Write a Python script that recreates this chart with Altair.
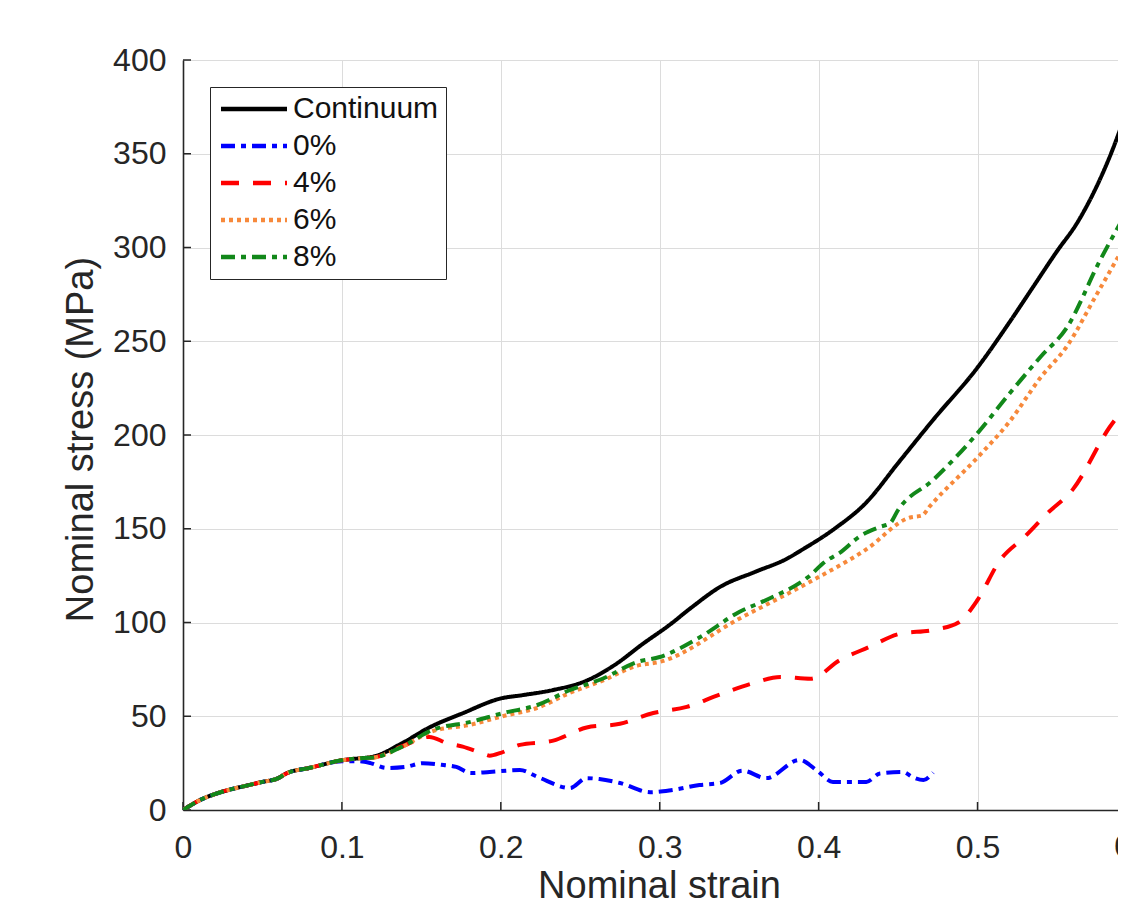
import altair as alt
import pandas as pd

# ---------------- data ----------------
series_names = ["Continuum", "0%", "4%", "6%", "8%"]
series_colors = ["#000000", "#0000ff", "#ff0000", "#f7893b", "#12881a"]
series_dashes = [[1, 0], [14, 6, 5, 6], [18, 14], [4, 4], [14, 6, 5, 6]]

cont_x = [0, 0.01, 0.02, 0.03, 0.04, 0.05, 0.06, 0.065, 0.08, 0.1, 0.11, 0.12,
          0.138, 0.155, 0.176, 0.2, 0.214, 0.233, 0.254, 0.271, 0.29, 0.306,
          0.32, 0.338, 0.36, 0.38, 0.39, 0.41, 0.43, 0.45, 0.472, 0.5, 0.52,
          0.535, 0.55, 0.5626, 0.583, 0.6]
cont_y = [0, 5, 8.5, 11, 13, 15, 17, 19.5, 22.5, 26.5, 27.5, 28.5,
          35.7, 44, 51.6, 59.5, 61.3, 64, 69, 77, 89, 98.6,
          108, 119, 127, 134, 139, 150, 164, 185, 208, 236, 260,
          279, 298, 313, 348, 388]

p0_x = [0, 0.01, 0.02, 0.03, 0.04, 0.05, 0.06, 0.065, 0.08, 0.1, 0.11, 0.118,
        0.128, 0.14, 0.151, 0.164, 0.172, 0.181, 0.193, 0.212, 0.223, 0.2436,
        0.254, 0.262, 0.275, 0.294, 0.308, 0.325, 0.338, 0.352, 0.367, 0.388,
        0.399, 0.409, 0.43, 0.4386, 0.453, 0.459, 0.466, 0.472]
p0_y = [0, 5, 8.5, 11, 13, 15, 17, 19.5, 22.5, 26, 26, 25,
        22.4, 23, 25, 24, 23, 19.7, 20.3, 21.3, 17.7, 11.7,
        17, 16.5, 14.4, 9.5, 10.7, 13.3, 14.4, 21, 17, 26.7,
        21, 15, 15, 19.5, 20.3, 17.6, 16, 20]

p4_x = [0, 0.01, 0.02, 0.03, 0.04, 0.05, 0.06, 0.065, 0.08, 0.1, 0.11, 0.12,
        0.138, 0.155, 0.166, 0.176, 0.189, 0.193, 0.2, 0.212, 0.233, 0.254,
        0.275, 0.296, 0.317, 0.336, 0.359, 0.376, 0.395, 0.4135, 0.432, 0.451,
        0.472, 0.488, 0.5, 0.514, 0.53, 0.5437, 0.56, 0.583, 0.6]
p4_y = [0, 5, 8.5, 11, 13, 15, 17, 19.5, 22.5, 26.5, 27.5, 28,
        34, 39, 35.7, 33.8, 30, 29, 30.5, 34.7, 37, 44,
        46, 51.7, 55, 61, 67.7, 71, 70, 80, 87, 94,
        96, 100, 112, 133, 146, 158, 171, 204, 222]

p6_x = [0, 0.01, 0.02, 0.03, 0.04, 0.05, 0.06, 0.065, 0.08, 0.1, 0.11, 0.12,
        0.138, 0.157, 0.181, 0.201, 0.223, 0.2436, 0.264, 0.286, 0.3, 0.35,
        0.393, 0.43, 0.4575, 0.465, 0.47, 0.5, 0.52, 0.54, 0.556, 0.575, 0.6]
p6_y = [0, 5, 8.5, 11, 13, 15, 17, 19.5, 22.5, 26.5, 27.5, 28,
        33.8, 42, 45.5, 50, 54.5, 62.5, 69, 77, 79, 102,
        121, 139, 156, 157, 162, 188, 207, 231, 247, 275, 312]

p8_x = [0, 0.01, 0.02, 0.03, 0.04, 0.05, 0.06, 0.065, 0.08, 0.1, 0.11, 0.12,
        0.138, 0.157, 0.181, 0.201, 0.223, 0.2436, 0.264, 0.286, 0.3, 0.325,
        0.35, 0.367, 0.393, 0.405, 0.413, 0.426, 0.4386, 0.445, 0.45, 0.472,
        0.5, 0.52, 0.54, 0.556, 0.577, 0.6]
p8_y = [0, 5, 8.5, 11, 13, 15, 17, 19.5, 22.5, 26.5, 27.5, 28,
        33.8, 42.7, 47, 51.6, 56, 64, 70, 79, 81.6, 92,
        105.6, 112, 124, 133, 137, 146, 151, 153, 160, 176,
        201, 222, 242, 257, 293, 328]

x_ticks = [0, 0.1, 0.2, 0.3, 0.4, 0.5]
y_ticks = [0, 50, 100, 150, 200, 250, 300, 350, 400]
cut_tick = [0.6]
cut_tick_label = ["0.6"]

# ---------------- build table ----------------
rows = []
for name, xs, ys in [("Continuum", cont_x, cont_y), ("0%", p0_x, p0_y),
                     ("4%", p4_x, p4_y), ("6%", p6_x, p6_y), ("8%", p8_x, p8_y)]:
    for xv, yv in zip(xs, ys):
        rows.append({"series": name, "strain": xv, "stress": yv})
df = pd.DataFrame(rows)
df["order"] = range(len(df))

FONT = "Liberation Sans"
AX = "#262626"
W, H = 935, 750

xscale = alt.Scale(domain=[0, 0.5884], nice=False, zero=False)
yscale = alt.Scale(domain=[0, 400], nice=False)

legend = alt.Legend(
    orient="none", legendX=27, legendY=27, title=None,
    symbolType="M-1,0H5", symbolSize=484, symbolStrokeWidth=4.5,
    labelFontSize=30, labelFont=FONT, labelColor="#111111", labelOffset=46,
    fillColor="white", strokeColor=AX, padding=7, rowPadding=7,
)

lines = alt.Chart(df).mark_line(strokeWidth=4, clip=True, interpolate="monotone").encode(
    x=alt.X("strain:Q", scale=xscale,
            axis=alt.Axis(values=x_ticks, format="~g", title="Nominal strain",
                          grid=True, gridColor="#dcdcdc", gridWidth=1,
                          ticks=False, domainColor=AX, domainWidth=1.6,
                          labelFont=FONT, labelFontSize=32, labelColor=AX,
                          labelPadding=22, labelFlush=False,
                          titleFont=FONT, titleFontSize=38, titleColor=AX,
                          titleFontWeight="normal", titleBaseline="alphabetic",
                          titleAlign="center", titleX=476, titleY=87)),
    y=alt.Y("stress:Q", scale=yscale,
            axis=alt.Axis(values=y_ticks, format="d", title="Nominal stress (MPa)",
                          grid=True, gridColor="#dcdcdc", gridWidth=1,
                          ticks=False, domainColor=AX, domainWidth=1.6,
                          labelFont=FONT, labelFontSize=32, labelColor=AX,
                          labelPadding=17, labelFlush=False,
                          titleFont=FONT, titleFontSize=38, titleColor=AX,
                          titleFontWeight="normal", titleAngle=270,
                          titleBaseline="alphabetic", titleAlign="center",
                          titleX=-91, titleY=379)),
    color=alt.Color("series:N", sort=series_names,
                    scale=alt.Scale(domain=series_names, range=series_colors),
                    legend=legend),
    strokeDash=alt.StrokeDash("series:N", sort=series_names,
                              scale=alt.Scale(domain=series_names, range=series_dashes),
                              legend=legend),
    order="order:Q",
)

xt = alt.Chart(pd.DataFrame({"strain": x_ticks})).mark_rule(color=AX, strokeWidth=1.5).encode(
    x=alt.X("strain:Q", scale=xscale), y=alt.value(H), y2=alt.value(H - 8))
yt = alt.Chart(pd.DataFrame({"stress": y_ticks})).mark_rule(color=AX, strokeWidth=1.5).encode(
    y=alt.Y("stress:Q", scale=yscale), x=alt.value(0), x2=alt.value(8))
cut = alt.Chart(pd.DataFrame({"strain": cut_tick, "t": cut_tick_label})).mark_text(
    baseline="top", align="center", fontSize=32, font=FONT, color=AX, clip=False).encode(
    x=alt.X("strain:Q", scale=xscale), y=alt.value(H + 22), text="t:N")

chart = alt.layer(xt, yt, lines, cut).properties(
    width=W, height=H,
    autosize=alt.AutoSizeParams(type="none"),
    padding={"left": 175, "top": 52, "right": 0, "bottom": 89},
).configure_view(stroke=None).configure(background="white")

chart.save("out.html", embed_options={"renderer": "svg", "actions": False})
